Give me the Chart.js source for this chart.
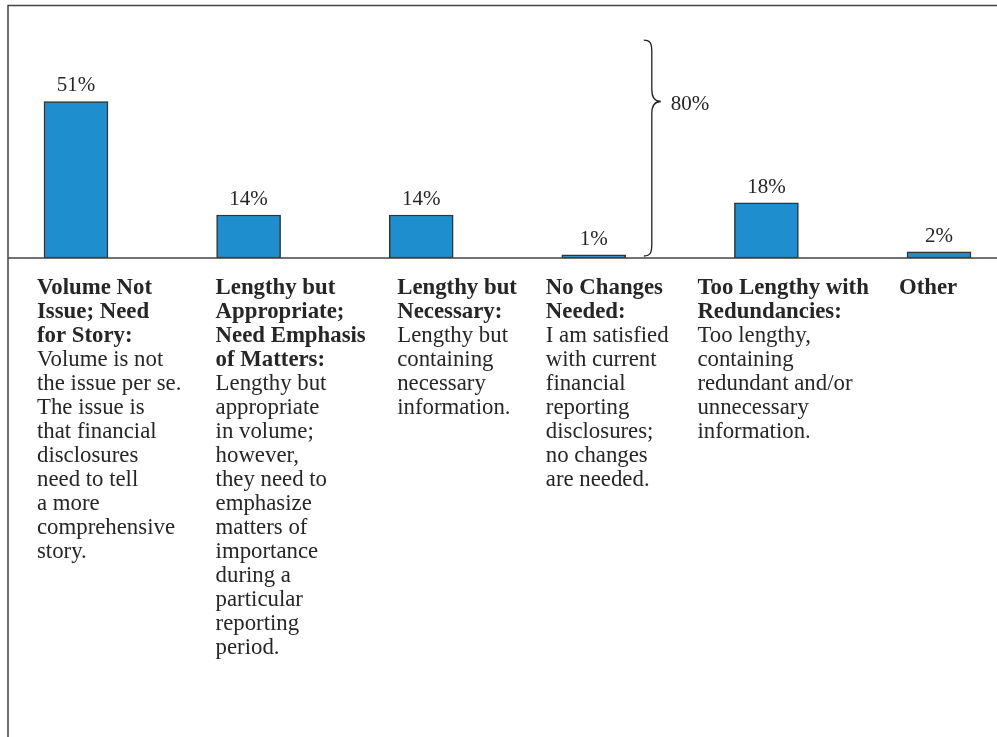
<!DOCTYPE html>
<html>
<head>
<meta charset="utf-8">
<script src="https://cdn.jsdelivr.net/npm/chart.js@4.4.1/dist/chart.umd.min.js"></script>
<style>
  html, body { margin: 0; padding: 0; background: #fff; }
  #wrap { width: 997px; height: 737px; }
</style>
</head>
<body>
<div id="wrap"><canvas id="c" width="997" height="737"></canvas></div>
<script>
// data
let categories = ["Volume Not Issue; Need for Story", "Lengthy but Appropriate; Need Emphasis of Matters",
  "Lengthy but Necessary", "No Changes Needed", "Too Lengthy with Redundancies", "Other"];
let values = [51, 14, 14, 1, 18, 2];

let titleLines = [
  ["Volume Not", "Issue; Need", "for Story:"],
  ["Lengthy but", "Appropriate;", "Need Emphasis", "of Matters:"],
  ["Lengthy but", "Necessary:"],
  ["No Changes", "Needed:"],
  ["Too Lengthy with", "Redundancies:"],
  ["Other"]
];
let bodyLines = [
  ["Volume is not", "the issue per se.", "The issue is", "that financial", "disclosures", "need to tell", "a more", "comprehensive", "story."],
  ["Lengthy but", "appropriate", "in volume;", "however,", "they need to", "emphasize", "matters of", "importance", "during a", "particular", "reporting", "period."],
  ["Lengthy but", "containing", "necessary", "information."],
  ["I am satisfied", "with current", "financial", "reporting", "disclosures;", "no changes", "are needed."],
  ["Too lengthy,", "containing", "redundant and/or", "unnecessary", "information."],
  []
];
// the brace groups the first four answers
let braceCount = 4;

let ink = "#262626";
let serif = '"Liberation Serif", "DejaVu Serif", serif';

let extras = {
  id: "extras",
  afterDatasetsDraw(chart, args, opts) {
    let c = chart.ctx, x = chart.scales.x, y = chart.scales.y;
    let base = y.getPixelForValue(0);
    c.save();
    // frame and base line
    c.strokeStyle = "#444";
    c.lineWidth = 1.5;
    c.beginPath();
    c.moveTo(8, 737); c.lineTo(8, 5.5); c.lineTo(997, 5.5);
    c.moveTo(8, base); c.lineTo(997, base);
    c.stroke();

    // value labels
    c.fillStyle = ink;
    c.font = "21px " + serif;
    c.textAlign = "center";
    c.textBaseline = "alphabetic";
    let meta = chart.getDatasetMeta(0);
    meta.data.forEach((bar, i) => {
      c.fillText(values[i] + "%", bar.x, bar.y - 10);
    });

    // category text under the axis
    c.textAlign = "left";
    categories.forEach((cat, i) => {
      let lx = x.getPixelForValue(i) + opts.dx[i];
      let ly = base + 36;
      c.font = "bold 22.8px " + serif;
      titleLines[i].forEach(t => { c.fillText(t, lx, ly); ly += 24; });
      c.font = "22.8px " + serif;
      bodyLines[i].forEach(t => { c.fillText(t, lx, ly); ly += 24; });
    });

    // brace
    let bx = x.getPixelForValue(braceCount - 1) + opts.braceDx;
    let top = y.getPixelForValue(opts.braceTop);
    let tip = y.getPixelForValue(values[0]);
    let bot = y.getPixelForValue(0) - 2;
    let r = 12;
    c.strokeStyle = "#222";
    c.lineWidth = 1.3;
    c.beginPath();
    c.moveTo(bx - 8, top);
    c.bezierCurveTo(bx - 1, top, bx, top + 4, bx, top + r);
    c.lineTo(bx, tip - r);
    c.bezierCurveTo(bx, tip - 4, bx + 3, tip, bx + 9, tip);
    c.bezierCurveTo(bx + 3, tip, bx, tip + 4, bx, tip + r);
    c.lineTo(bx, bot - r);
    c.bezierCurveTo(bx, bot - 4, bx - 1, bot, bx - 8, bot);
    c.stroke();
    let sum = values.slice(0, braceCount).reduce((a, b) => a + b, 0);
    c.font = "21px " + serif;
    c.textBaseline = "middle";
    c.fillText(sum + "%", bx + 19, tip + 3);
    c.restore();
  }
};

new Chart(document.getElementById("c"), {
  type: "bar",
  data: {
    labels: categories,
    datasets: [{
      data: values,
      backgroundColor: "#1e8ece",
      borderColor: "#333",
      borderWidth: 1.5,
      borderSkipped: false,
      barThickness: 64,
      clip: false
    }]
  },
  options: {
    responsive: false,
    animation: false,
    events: [],
    layout: { padding: { left: 76, right: 58, top: 12.5, bottom: 479 } },
    plugins: {
      legend: { display: false },
      tooltip: { enabled: false },
      extras: { dx: [-39, -33, -24, -48, -69, -40], braceDx: 58, braceTop: 71 }
    },
    scales: {
      x: { display: false, offset: false, grid: { offset: false } },
      y: { display: false, min: 0, max: 80 }
    }
  },
  plugins: [extras]
});
</script>
</body>
</html>
